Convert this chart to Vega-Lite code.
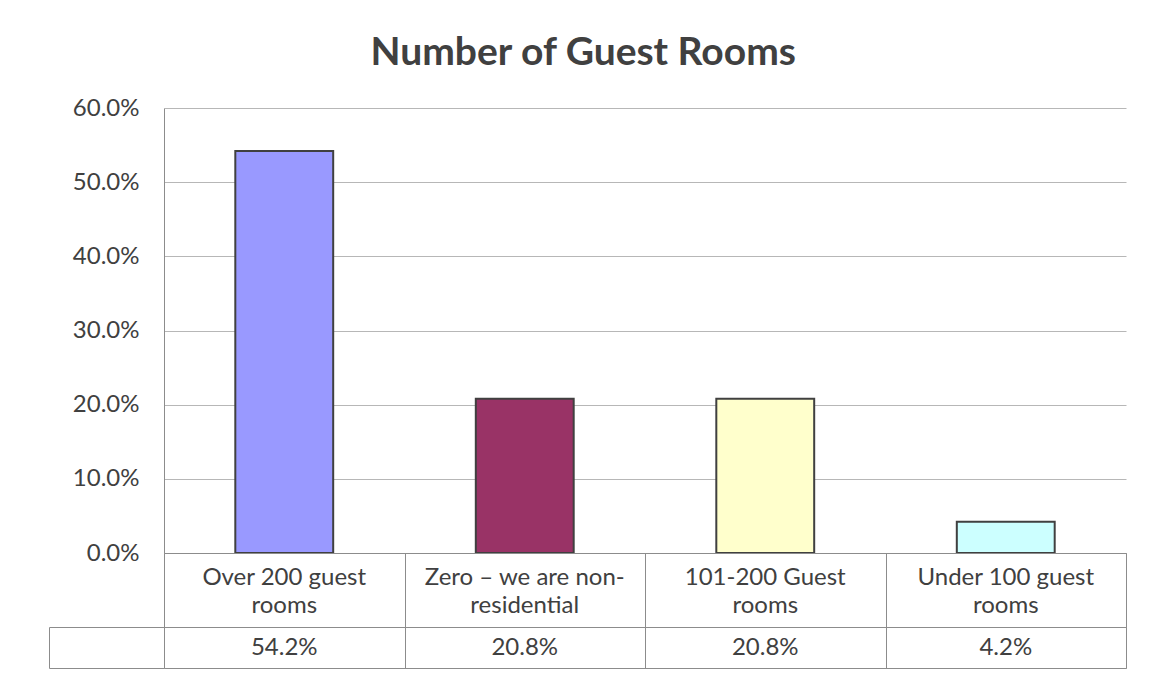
{
  "$schema": "https://vega.github.io/schema/vega-lite/v6.json",
  "padding": {"left": 48, "top": 34, "right": 0, "bottom": 0},
  "background": "white",
  "config": {"font": "Lato", "view": {"stroke": null}, "concat": {"spacing": 0}},
  "title": {"text": "Number of Guest Rooms", "fontSize": 39, "fontWeight": "bold", "color": "#404040", "font": "Lato", "anchor": "middle", "frame": "bounds", "offset": 23, "dx": -4},
  "datasets": {
    "rooms": [
      {"category": "Over 200 guest rooms", "label": "Over 200 guest\nrooms", "share": 0.542, "series": "Series1"},
      {"category": "Zero – we are non-residential", "label": "Zero – we are non-\nresidential", "share": 0.208, "series": "Series1"},
      {"category": "101-200 Guest rooms", "label": "101-200 Guest\nrooms", "share": 0.208, "series": "Series1"},
      {"category": "Under 100 guest rooms", "label": "Under 100 guest\nrooms", "share": 0.042, "series": "Series1"}
    ]
  },
  "bounds": "flush",
  "spacing": 0,
  "resolve": {"scale": {"color": "independent", "x": "independent", "y": "independent"}},
  "vconcat": [
    {
      "width": 962,
      "height": 445,
      "data": {"name": "rooms"},
      "mark": {"type": "bar", "stroke": "#404040", "strokeWidth": 2, "width": {"band": 0.407}},
      "encoding": {
        "x": {
          "field": "category", "type": "nominal", "sort": null,
          "scale": {"paddingInner": 0, "paddingOuter": 0},
          "axis": null
        },
        "y": {
          "field": "share", "type": "quantitative",
          "scale": {"domain": [0, 0.6], "nice": false},
          "axis": {
            "title": null, "values": [0, 0.1, 0.2, 0.3, 0.4, 0.5, 0.6], "format": ".1%",
            "grid": true, "gridColor": "#b7b7b7", "domain": true, "domainColor": "#8c8c8c",
            "ticks": false, "labelPadding": 25, "labelFontSize": 24, "labelColor": "#404040", "labelFont": "Lato"
          }
        },
        "color": {
          "field": "category", "type": "nominal", "sort": null,
          "scale": {"range": ["#9999FF", "#993366", "#FFFFCC", "#CCFFFF"]},
          "legend": null
        }
      }
    },
    {
      "width": 962,
      "height": 74,
      "data": {"name": "rooms"},
      "view": {"stroke": "#8c8c8c"},
      "mark": {"type": "text", "fontSize": 24, "font": "Lato", "color": "#404040", "lineBreak": "\n", "lineHeight": 28, "baseline": "middle", "dy": -12},
      "encoding": {
        "x": {
          "field": "category", "type": "nominal", "sort": null,
          "scale": {"paddingInner": 0, "paddingOuter": 0},
          "axis": {"orient": "top", "title": null, "labels": false, "ticks": false, "domain": false, "grid": true, "tickBand": "extent", "gridColor": "#8c8c8c"}
        },
        "text": {"field": "label", "type": "nominal"}
      }
    },
    {
      "width": 962,
      "height": 41,
      "data": {"name": "rooms"},
      "view": {"stroke": "#8c8c8c"},
      "mark": {"type": "text", "fontSize": 24, "font": "Lato"},
      "encoding": {
        "x": {
          "field": "category", "type": "nominal", "sort": null,
          "scale": {"paddingInner": 0, "paddingOuter": 0},
          "axis": {"orient": "top", "title": null, "labels": false, "ticks": false, "domain": false, "grid": true, "tickBand": "extent", "gridColor": "#8c8c8c"}
        },
        "y": {
          "field": "series", "type": "nominal",
          "scale": {"paddingInner": 0, "paddingOuter": 0},
          "axis": {"title": null, "labels": false, "domain": true, "domainColor": "#8c8c8c", "ticks": true, "tickBand": "extent", "tickSize": -115, "tickColor": "#8c8c8c", "offset": 115}
        },
        "text": {"field": "share", "type": "quantitative", "format": ".1%"},
        "fill": {"value": "#404040"},
        "color": {
          "field": "series", "type": "nominal",
          "scale": {"range": ["#9999FF"]},
          "legend": {
            "orient": "none", "legendX": -109, "legendY": 10, "title": null,
            "symbolType": "square", "symbolSize": 225, "symbolStrokeColor": "#404040", "symbolStrokeWidth": 2,
            "labelFontSize": 24, "labelColor": "#404040", "labelFont": "Lato",
            "encode": {"symbols": {"update": {"stroke": {"value": "#404040"}, "strokeWidth": {"value": 2}}}}
          }
        }
      }
    }
  ]
}
